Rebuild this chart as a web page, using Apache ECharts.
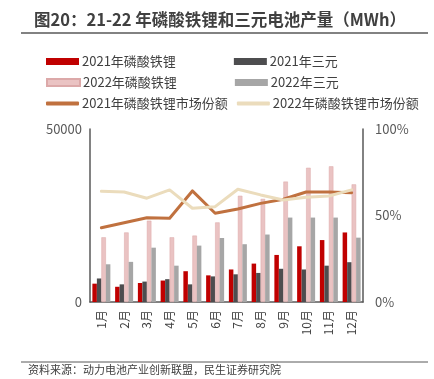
<!DOCTYPE html>
<html><head><meta charset="utf-8">
<script src="https://cdn.jsdelivr.net/npm/echarts@6/dist/echarts.min.js"></script>
<style>html,body{margin:0;padding:0;background:#fff;}#c{width:434px;height:379px;}</style>
</head><body><div id="c"></div>
<script>
const months = ['1月','2月','3月','4月','5月','6月','7月','8月','9月','10月','11月','12月'];
const lfp2021 = [5300, 4400, 5500, 6200, 8900, 7700, 9400, 11100, 13600, 16100, 17900, 20100];
const ncm2021 = [6800, 5100, 5900, 6600, 5100, 7400, 8000, 8400, 9600, 9400, 10500, 11500];
const lfp2022 = [18700, 20100, 23500, 18700, 19200, 23000, 30700, 29800, 34800, 38800, 39200, 34000];
const ncm2022 = [10900, 11600, 15700, 10500, 16300, 18500, 16700, 19500, 24400, 24400, 24400, 18600];
const share2021 = [42.9, 45.8, 48.7, 48.4, 64.2, 51.3, 53.8, 57.0, 59.4, 63.6, 63.6, 63.2];
const share2022 = [64.0, 63.6, 60.0, 64.8, 54.2, 55.1, 65.2, 61.9, 59.0, 60.5, 61.3, 64.8];
const leftTicks = ['0', '50000'];
const rightTicks = ['0%', '50%', '100%'];

const chart = echarts.init(document.getElementById('c'));
const font = '"Microsoft YaHei","Noto Sans CJK SC",sans-serif';
const bw = 4.5;
const barBase = {type:'bar', barWidth:bw, barGap:'0%', yAxisIndex:0};
const legText = {fontSize:13,color:'#404040',padding:[0,0,0,-2]};
chart.setOption({
  animation:false,
  textStyle:{fontFamily:font},
  title:{text:'图20：21-22 年磷酸铁锂和三元电池产量（MWh）', left:29, top:6,
    textStyle:{fontSize:16.5, fontWeight:'bold', color:'#404040', fontFamily:font}},
  graphic:[
    {type:'line', shape:{x1:21,y1:33,x2:428,y2:33}, style:{stroke:'#595959', lineWidth:1.5}},
    {type:'line', shape:{x1:21,y1:362,x2:428,y2:362}, style:{stroke:'#595959', lineWidth:1}},
    {type:'text', left:28, top:364, style:{text:'资料来源：动力电池产业创新联盟，民生证券研究院', fill:'#404040', font:'11px '+font}}
  ],
  legend:[
    {left:46, top:55, padding:0, itemWidth:33, itemHeight:7, itemGap:58, icon:'rect',
     data:['2021年磷酸铁锂','2021年三元'], textStyle:legText},
    {left:46, top:76, padding:0, itemWidth:33, itemHeight:7, itemGap:58, icon:'rect',
     data:['2022年磷酸铁锂','2022年三元'], textStyle:legText},
    {left:46, top:97, padding:0, itemWidth:33, itemHeight:4, itemGap:9, icon:'roundRect',
     data:['2021年磷酸铁锂市场份额','2022年磷酸铁锂市场份额'], textStyle:legText}
  ],
  grid:{left:90, right:71, top:129, bottom:77},
  xAxis:{type:'category', data:months, boundaryGap:true,
    axisLine:{lineStyle:{color:'#595959', width:1.5}}, axisTick:{show:false},
    axisLabel:{rotate:90, color:'#404040', fontSize:12, margin:8, interval:0}},
  yAxis:[
    {type:'value', min:0, max:50000, interval:50000, splitLine:{show:false},
     axisLine:{show:true, lineStyle:{color:'#595959', width:1.5}}, axisTick:{show:false},
     axisLabel:{color:'#595959', fontSize:13, margin:8, formatter:v=>leftTicks[Math.round(v/50000)]}},
    {type:'value', min:0, max:100, interval:50, splitLine:{show:false},
     axisLine:{show:true, lineStyle:{color:'#595959', width:1.5}}, axisTick:{show:false},
     axisLabel:{color:'#595959', fontSize:13, margin:12, formatter:v=>rightTicks[Math.round(v/50)]}}
  ],
  series:[
    Object.assign({name:'2021年磷酸铁锂', data:lfp2021, itemStyle:{color:'#C00000'}}, barBase),
    Object.assign({name:'2021年三元', data:ncm2021, itemStyle:{color:'#4D4D4F'}}, barBase),
    Object.assign({name:'2022年磷酸铁锂', data:lfp2022, itemStyle:{color:'#EAC3C3', borderColor:'#DCA9A9', borderWidth:0.5}}, barBase),
    Object.assign({name:'2022年三元', data:ncm2022, itemStyle:{color:'#A6A6A6'}}, barBase),
    {name:'2021年磷酸铁锂市场份额', type:'line', yAxisIndex:1, data:share2021, symbol:'none',
     lineStyle:{color:'#C0713F', width:3, cap:'round', join:'round'}, itemStyle:{color:'#C0713F'}},
    {name:'2022年磷酸铁锂市场份额', type:'line', yAxisIndex:1, data:share2022, symbol:'none',
     lineStyle:{color:'#EBDCBC', width:3, cap:'round', join:'round'}, itemStyle:{color:'#EBDCBC'}}
  ]
});
</script></body></html>
